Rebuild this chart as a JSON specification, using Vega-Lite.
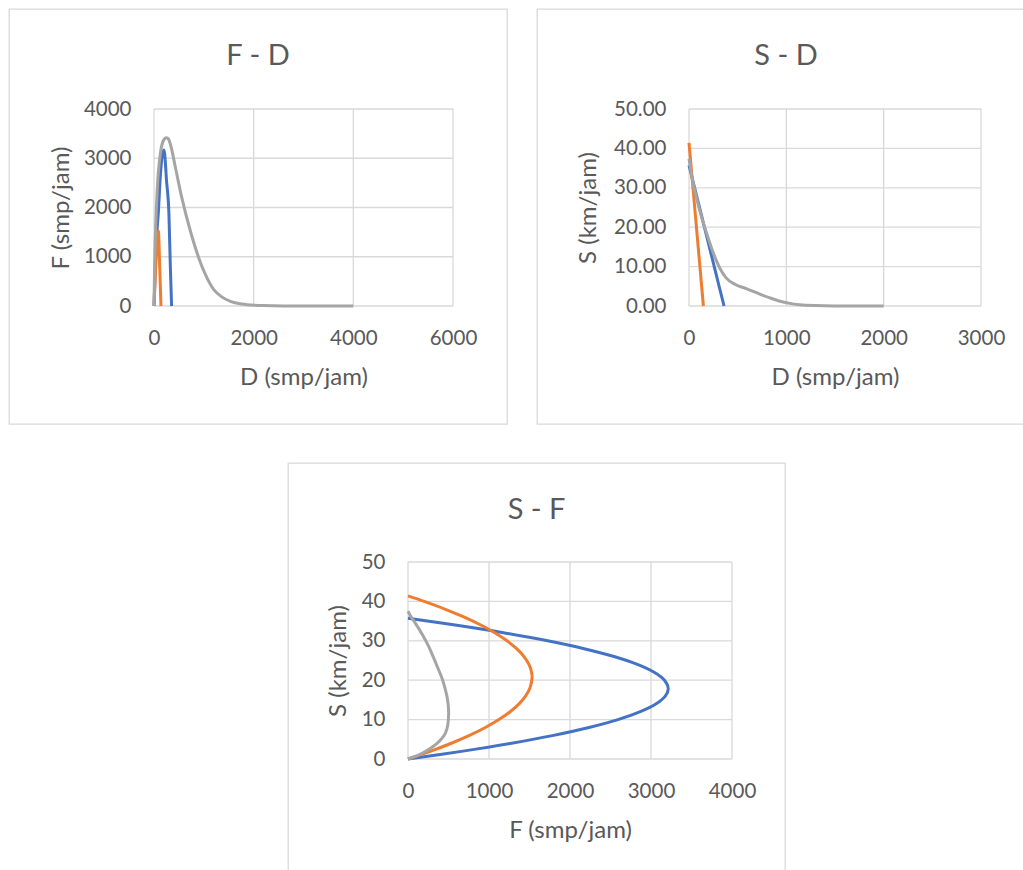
{
"$schema": "https://vega.github.io/schema/vega-lite/v6.json",
"padding": {"left": 8, "top": 8, "right": 0, "bottom": 0},
"background": "white",
"datasets": {
"g1x": [{"v": 0}, {"v": 2000}, {"v": 4000}, {"v": 6000}],
"g1y": [{"v": 0}, {"v": 1000}, {"v": 2000}, {"v": 3000}, {"v": 4000}],
"g2x": [{"v": 0}, {"v": 1000}, {"v": 2000}, {"v": 3000}],
"g2y": [{"v": 0}, {"v": 10}, {"v": 20}, {"v": 30}, {"v": 40}, {"v": 50}],
"g3x": [{"v": 0}, {"v": 1000}, {"v": 2000}, {"v": 3000}, {"v": 4000}],
"g3y": [{"v": 0}, {"v": 10}, {"v": 20}, {"v": 30}, {"v": 40}, {"v": 50}],
"fd": [
{"s": "Series1", "k": 0, "D": 0, "F": 0},
{"s": "Series1", "k": 1, "D": 40, "F": 1200},
{"s": "Series1", "k": 2, "D": 87, "F": 1900},
{"s": "Series1", "k": 3, "D": 133, "F": 2728},
{"s": "Series1", "k": 4, "D": 167, "F": 3066},
{"s": "Series1", "k": 5, "D": 200, "F": 3168},
{"s": "Series1", "k": 6, "D": 253, "F": 2526},
{"s": "Series1", "k": 7, "D": 300, "F": 1851},
{"s": "Series1", "k": 8, "D": 327, "F": 838},
{"s": "Series1", "k": 9, "D": 353, "F": 0},
{"s": "Series2", "k": 0, "D": 0, "F": 0},
{"s": "Series2", "k": 1, "D": 30, "F": 700},
{"s": "Series2", "k": 2, "D": 60, "F": 1250},
{"s": "Series2", "k": 3, "D": 87, "F": 1527},
{"s": "Series2", "k": 4, "D": 100, "F": 1310},
{"s": "Series2", "k": 5, "D": 113, "F": 840},
{"s": "Series2", "k": 6, "D": 140, "F": 0},
{"s": "Series3", "k": 0, "D": 0, "F": 0},
{"s": "Series3", "k": 1, "D": 13, "F": 840},
{"s": "Series3", "k": 2, "D": 33, "F": 1600},
{"s": "Series3", "k": 3, "D": 67, "F": 2400},
{"s": "Series3", "k": 4, "D": 133, "F": 3130},
{"s": "Series3", "k": 5, "D": 190, "F": 3360},
{"s": "Series3", "k": 6, "D": 247, "F": 3418},
{"s": "Series3", "k": 7, "D": 290, "F": 3390},
{"s": "Series3", "k": 8, "D": 333, "F": 3270},
{"s": "Series3", "k": 9, "D": 433, "F": 2796},
{"s": "Series3", "k": 10, "D": 560, "F": 2190},
{"s": "Series3", "k": 11, "D": 733, "F": 1513},
{"s": "Series3", "k": 12, "D": 900, "F": 972},
{"s": "Series3", "k": 13, "D": 1033, "F": 636},
{"s": "Series3", "k": 14, "D": 1200, "F": 331},
{"s": "Series3", "k": 15, "D": 1367, "F": 180},
{"s": "Series3", "k": 16, "D": 1533, "F": 95},
{"s": "Series3", "k": 17, "D": 1700, "F": 50},
{"s": "Series3", "k": 18, "D": 1867, "F": 27},
{"s": "Series3", "k": 19, "D": 2200, "F": 8},
{"s": "Series3", "k": 20, "D": 2600, "F": 2},
{"s": "Series3", "k": 21, "D": 4000, "F": 0}
],
"sd": [
{"s": "Series1", "k": 0, "D": 0, "S": 35.7},
{"s": "Series1", "k": 1, "D": 360, "S": 0},
{"s": "Series2", "k": 0, "D": 0, "S": 41.4},
{"s": "Series2", "k": 1, "D": 148, "S": 0},
{"s": "Series3", "k": 0, "D": 0, "S": 37.4},
{"s": "Series3", "k": 1, "D": 40, "S": 31.5},
{"s": "Series3", "k": 2, "D": 78, "S": 27.4},
{"s": "Series3", "k": 3, "D": 130, "S": 22.5},
{"s": "Series3", "k": 4, "D": 174, "S": 19.0},
{"s": "Series3", "k": 5, "D": 230, "S": 14.8},
{"s": "Series3", "k": 6, "D": 283, "S": 11.4},
{"s": "Series3", "k": 7, "D": 330, "S": 9.0},
{"s": "Series3", "k": 8, "D": 379, "S": 7.2},
{"s": "Series3", "k": 9, "D": 472, "S": 5.5},
{"s": "Series3", "k": 10, "D": 600, "S": 4.3},
{"s": "Series3", "k": 11, "D": 728, "S": 3.0},
{"s": "Series3", "k": 12, "D": 850, "S": 1.9},
{"s": "Series3", "k": 13, "D": 967, "S": 1.0},
{"s": "Series3", "k": 14, "D": 1050, "S": 0.6},
{"s": "Series3", "k": 15, "D": 1138, "S": 0.3},
{"s": "Series3", "k": 16, "D": 1300, "S": 0.1},
{"s": "Series3", "k": 17, "D": 1500, "S": 0.03},
{"s": "Series3", "k": 18, "D": 2000, "S": 0}
],
"sf": [
{"s": "Series1", "k": 0, "F": 0, "S": 0},
{"s": "Series1", "k": 1, "F": 680, "S": 2},
{"s": "Series1", "k": 2, "F": 1279, "S": 4},
{"s": "Series1", "k": 3, "F": 1797, "S": 6},
{"s": "Series1", "k": 4, "F": 2235, "S": 8},
{"s": "Series1", "k": 5, "F": 2592, "S": 10},
{"s": "Series1", "k": 6, "F": 2868, "S": 12},
{"s": "Series1", "k": 7, "F": 3064, "S": 14},
{"s": "Series1", "k": 8, "F": 3178, "S": 16},
{"s": "Series1", "k": 9, "F": 3213, "S": 17.85},
{"s": "Series1", "k": 10, "F": 3166, "S": 20},
{"s": "Series1", "k": 11, "F": 3039, "S": 22},
{"s": "Series1", "k": 12, "F": 2832, "S": 24},
{"s": "Series1", "k": 13, "F": 2543, "S": 26},
{"s": "Series1", "k": 14, "F": 2174, "S": 28},
{"s": "Series1", "k": 15, "F": 1724, "S": 30},
{"s": "Series1", "k": 16, "F": 1194, "S": 32},
{"s": "Series1", "k": 17, "F": 583, "S": 34},
{"s": "Series1", "k": 18, "F": 0, "S": 35.7},
{"s": "Series2", "k": 0, "F": 0, "S": 0},
{"s": "Series2", "k": 1, "F": 282, "S": 2},
{"s": "Series2", "k": 2, "F": 535, "S": 4},
{"s": "Series2", "k": 3, "F": 759, "S": 6},
{"s": "Series2", "k": 4, "F": 955, "S": 8},
{"s": "Series2", "k": 5, "F": 1123, "S": 10},
{"s": "Series2", "k": 6, "F": 1261, "S": 12},
{"s": "Series2", "k": 7, "F": 1371, "S": 14},
{"s": "Series2", "k": 8, "F": 1453, "S": 16},
{"s": "Series2", "k": 9, "F": 1506, "S": 18},
{"s": "Series2", "k": 10, "F": 1532, "S": 20.7},
{"s": "Series2", "k": 11, "F": 1526, "S": 22},
{"s": "Series2", "k": 12, "F": 1493, "S": 24},
{"s": "Series2", "k": 13, "F": 1432, "S": 26},
{"s": "Series2", "k": 14, "F": 1341, "S": 28},
{"s": "Series2", "k": 15, "F": 1223, "S": 30},
{"s": "Series2", "k": 16, "F": 1076, "S": 32},
{"s": "Series2", "k": 17, "F": 899, "S": 34},
{"s": "Series2", "k": 18, "F": 695, "S": 36},
{"s": "Series2", "k": 19, "F": 462, "S": 38},
{"s": "Series2", "k": 20, "F": 200, "S": 40},
{"s": "Series2", "k": 21, "F": 0, "S": 41.4},
{"s": "Series3", "k": 0, "F": 0, "S": 0},
{"s": "Series3", "k": 1, "F": 90, "S": 0.65},
{"s": "Series3", "k": 2, "F": 173, "S": 1.45},
{"s": "Series3", "k": 3, "F": 260, "S": 2.5},
{"s": "Series3", "k": 4, "F": 337, "S": 3.6},
{"s": "Series3", "k": 5, "F": 410, "S": 5.0},
{"s": "Series3", "k": 6, "F": 461, "S": 6.5},
{"s": "Series3", "k": 7, "F": 490, "S": 8.5},
{"s": "Series3", "k": 8, "F": 502, "S": 11.6},
{"s": "Series3", "k": 9, "F": 495, "S": 14},
{"s": "Series3", "k": 10, "F": 481, "S": 15.9},
{"s": "Series3", "k": 11, "F": 450, "S": 18.5},
{"s": "Series3", "k": 12, "F": 420, "S": 20.5},
{"s": "Series3", "k": 13, "F": 379, "S": 22.6},
{"s": "Series3", "k": 14, "F": 320, "S": 25.5},
{"s": "Series3", "k": 15, "F": 255, "S": 28.6},
{"s": "Series3", "k": 16, "F": 180, "S": 31.5},
{"s": "Series3", "k": 17, "F": 90, "S": 34.5},
{"s": "Series3", "k": 18, "F": 40, "S": 36},
{"s": "Series3", "k": 19, "F": 0, "S": 37.5}
]
},
"vconcat": [
{
"hconcat": [
{
"width": 498, "height": 415,
"title": {"text": "F - D"},
"layer": [
{"data": {"name": "g1x"}, "mark": "rule", "encoding": {"x": {"field": "v", "type": "quantitative"}, "y": {"datum": 0}, "y2": {"datum": 4000}}},
{"data": {"name": "g1y"}, "mark": "rule", "encoding": {"y": {"field": "v", "type": "quantitative"}, "x": {"datum": 0}, "x2": {"datum": 6000}}},
{"data": {"name": "fd"}, "mark": {"type": "line", "interpolate": "monotone", "strokeWidth": 3},
"encoding": {
"x": {"field": "D", "type": "quantitative", "scale": {"domain": [0, 6000], "range": [145, 444], "nice": false, "zero": false}, "axis": {"values": [0, 2000, 4000, 6000], "format": "d", "title": "D (smp/jam)", "offset": -118, "titleY": 78, "titleBaseline": "alphabetic", "labelPadding": 22}},
"y": {"field": "F", "type": "quantitative", "scale": {"domain": [0, 4000], "range": [297, 100], "nice": false, "zero": false}, "axis": {"values": [0, 1000, 2000, 3000, 4000], "format": "d", "title": "F (smp/jam)", "offset": -145, "titleX": -86, "titleBaseline": "alphabetic", "labelPadding": 23}},
"color": {"field": "s", "type": "nominal", "scale": {"domain": ["Series1", "Series2", "Series3"], "range": ["#4472C4", "#ED7D31", "#A5A5A5"]}, "legend": null},
"order": {"field": "k", "type": "quantitative"}
}}
]
},
{
"width": 498, "height": 415,
"title": {"text": "S - D"},
"layer": [
{"data": {"name": "g2x"}, "mark": "rule", "encoding": {"x": {"field": "v", "type": "quantitative"}, "y": {"datum": 0}, "y2": {"datum": 50}}},
{"data": {"name": "g2y"}, "mark": "rule", "encoding": {"y": {"field": "v", "type": "quantitative"}, "x": {"datum": 0}, "x2": {"datum": 3000}}},
{"data": {"name": "sd"}, "mark": {"type": "line", "interpolate": "monotone", "strokeWidth": 3},
"encoding": {
"x": {"field": "D", "type": "quantitative", "scale": {"domain": [0, 3000], "range": [152, 444], "nice": false, "zero": false}, "axis": {"values": [0, 1000, 2000, 3000], "format": "d", "title": "D (smp/jam)", "offset": -118, "titleY": 78, "titleBaseline": "alphabetic", "labelPadding": 22}},
"y": {"field": "S", "type": "quantitative", "scale": {"domain": [0, 50], "range": [297, 100], "nice": false, "zero": false}, "axis": {"values": [0, 10, 20, 30, 40, 50], "format": ".2f", "title": "S (km/jam)", "offset": -152, "titleX": -94, "titleBaseline": "alphabetic", "labelPadding": 23}},
"color": {"field": "s", "type": "nominal", "scale": {"domain": ["Series1", "Series2", "Series3"], "range": ["#4472C4", "#ED7D31", "#A5A5A5"]}, "legend": null},
"order": {"field": "k", "type": "quantitative"}
}}
]
}
],
"spacing": 28
},
{
"hconcat": [
{"width": 1, "height": 1, "data": {"values": []}, "mark": "point", "view": {"stroke": null}},
{
"width": 497, "height": 415,
"title": {"text": "S - F"},
"layer": [
{"data": {"name": "g3x"}, "mark": "rule", "encoding": {"x": {"field": "v", "type": "quantitative"}, "y": {"datum": 0}, "y2": {"datum": 50}}},
{"data": {"name": "g3y"}, "mark": "rule", "encoding": {"y": {"field": "v", "type": "quantitative"}, "x": {"datum": 0}, "x2": {"datum": 4000}}},
{"data": {"name": "sf"}, "mark": {"type": "line", "interpolate": "catmull-rom", "strokeWidth": 3},
"encoding": {
"x": {"field": "F", "type": "quantitative", "scale": {"domain": [0, 4000], "range": [120, 444], "nice": false, "zero": false}, "axis": {"values": [0, 1000, 2000, 3000, 4000], "format": "d", "title": "F (smp/jam)", "offset": -119, "titleY": 78, "titleBaseline": "alphabetic", "labelPadding": 22}},
"y": {"field": "S", "type": "quantitative", "scale": {"domain": [0, 50], "range": [296, 99], "nice": false, "zero": false}, "axis": {"values": [0, 10, 20, 30, 40, 50], "format": "d", "title": "S (km/jam)", "offset": -120, "titleX": -63, "titleBaseline": "alphabetic", "labelPadding": 23}},
"color": {"field": "s", "type": "nominal", "scale": {"domain": ["Series1", "Series2", "Series3"], "range": ["#4472C4", "#ED7D31", "#A5A5A5"]}, "legend": null},
"order": {"field": "k", "type": "quantitative"}
}}
]
}
],
"spacing": 277
}
],
"spacing": 37,
"config": {
"view": {"stroke": "#D9D9D9", "strokeWidth": 1.3},
"font": "Lato",
"axis": {"grid": false, "domain": false, "ticks": false, "labelFlush": false, "labelOverlap": false, "labelFont": "Lato", "labelFontSize": 20.5, "labelColor": "#595959", "titleFont": "Lato", "titleFontSize": 24, "titleColor": "#595959", "titleFontWeight": "normal"},
"title": {"font": "Lato", "fontSize": 29, "fontWeight": "normal", "color": "#595959", "offset": -62, "anchor": "middle"},
"rule": {"stroke": "#D9D9D9", "strokeWidth": 1.3}
}
}
